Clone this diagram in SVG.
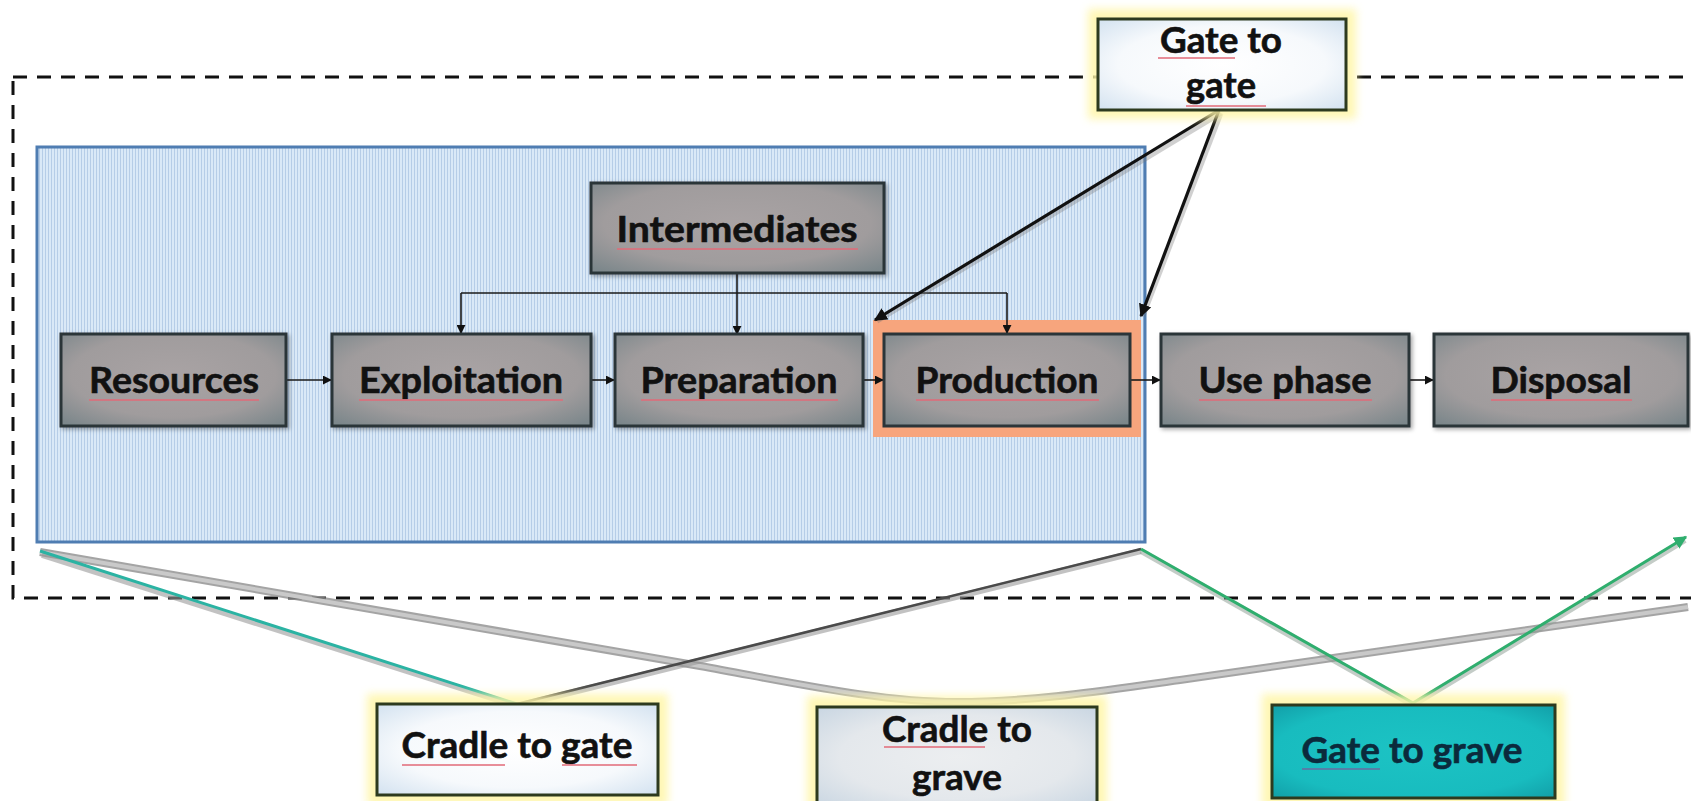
<svg xmlns="http://www.w3.org/2000/svg" width="1691" height="801" viewBox="0 0 1691 801">
<style>
.lbl{font-family:Lato,"Open Sans","Liberation Sans",sans-serif;font-weight:700;font-size:36px;fill:#111;stroke:#111;stroke-width:0.6;text-anchor:middle}
.node{fill:url(#ng);stroke:#2b3539;stroke-width:3}
.box{stroke:#2d3a1e;stroke-width:3}
.glow{fill:#fff6a8;opacity:.85}
.thin{fill:none;stroke:#1a1a1a;stroke-width:1.6}
.sq{stroke:#e26a78;stroke-width:2;opacity:.75}
</style>
<defs>
<pattern id="hatch" width="3" height="3" patternUnits="userSpaceOnUse">
<rect width="3" height="3" fill="#dae9f7"/>
<rect width="1" height="3" fill="#b6cde7"/>
</pattern>
<radialGradient id="ng" cx="50%" cy="45%" r="70%">
<stop offset="0" stop-color="#a9a3a4"/>
<stop offset="0.65" stop-color="#a09c9d"/>
<stop offset="1" stop-color="#7c878b"/>
</radialGradient>
<radialGradient id="wg" cx="50%" cy="50%" r="70%">
<stop offset="0" stop-color="#ffffff"/>
<stop offset="0.6" stop-color="#f6f9fc"/>
<stop offset="1" stop-color="#d3e2f0"/>
</radialGradient>
<radialGradient id="gg" cx="50%" cy="50%" r="70%">
<stop offset="0" stop-color="#eceef0"/>
<stop offset="0.6" stop-color="#e4e8ec"/>
<stop offset="1" stop-color="#c9d6e2"/>
</radialGradient>
<radialGradient id="tg" cx="50%" cy="50%" r="70%">
<stop offset="0" stop-color="#1cc3c4"/>
<stop offset="0.7" stop-color="#18bcbf"/>
<stop offset="1" stop-color="#129fa8"/>
</radialGradient>
<filter id="blur" x="-20%" y="-30%" width="140%" height="160%"><feGaussianBlur stdDeviation="4"/></filter>
<filter id="sh" x="-10%" y="-10%" width="130%" height="130%"><feDropShadow dx="2" dy="2" stdDeviation="2" flood-color="#000" flood-opacity="0.35"/></filter>
<marker id="ah" viewBox="0 0 10 10" refX="9" refY="5" markerWidth="9" markerHeight="9" markerUnits="userSpaceOnUse" orient="auto"><path d="M0,0 L10,5 L0,10 z" fill="#111"/></marker>
<marker id="ahb" viewBox="0 0 10 10" refX="9" refY="5" markerWidth="13" markerHeight="13" markerUnits="userSpaceOnUse" orient="auto"><path d="M0,0 L10,5 L0,10 z" fill="#111"/></marker>
<marker id="ahg" viewBox="0 0 10 10" refX="9" refY="5" markerWidth="13" markerHeight="13" markerUnits="userSpaceOnUse" orient="auto"><path d="M0,0 L10,5 L0,10 z" fill="#2fae6e"/></marker>
</defs>
<rect width="1691" height="801" fill="#ffffff"/>

<g id="boundary">
<rect x="13" y="77" width="1720" height="521" fill="none" stroke="#111" stroke-width="3" stroke-dasharray="14 10"/>
</g>

<g id="cradle-gate-scope">
<rect x="37" y="147" width="1108" height="395" fill="url(#hatch)" stroke="#4f7db2" stroke-width="3"/>
</g>

<g id="production-highlight">
<rect x="873" y="320" width="268" height="117" fill="#f7a57d"/>
</g>

<g id="connectors">
<path class="thin" d="M737,273 V293"/>
<path class="thin" d="M461,293 H1007"/>
<path class="thin" d="M461,293 V333" marker-end="url(#ah)"/>
<path class="thin" d="M737,293 V334" marker-end="url(#ah)"/>
<path class="thin" d="M1007,293 V333" marker-end="url(#ah)"/>
<path class="thin" d="M286,380 H331" marker-end="url(#ah)"/>
<path class="thin" d="M591,380 H614" marker-end="url(#ah)"/>
<path class="thin" d="M863,380 H883" marker-end="url(#ah)"/>
<path class="thin" d="M1130,380 H1160" marker-end="url(#ah)"/>
<path class="thin" d="M1409,380 H1433" marker-end="url(#ah)"/>
<path d="M1221,113 L877,321" fill="none" stroke="#777" stroke-width="5" opacity="0.35"/>
<path d="M1221,113 L1143,316" fill="none" stroke="#777" stroke-width="5" opacity="0.35"/>
<path d="M1219,110 L875,320" fill="none" stroke="#111" stroke-width="3.2" marker-end="url(#ahb)"/>
<path d="M1219,110 L1141,316" fill="none" stroke="#111" stroke-width="3.2" marker-end="url(#ahb)"/>
<!-- cradle to grave -->
<path d="M40,552 L700,666 C800,684 880,702 957,702 C1040,702 1120,688 1180,680 L1688,607" fill="none" stroke="#8d8d8d" stroke-width="8" opacity="0.8"/>
<path d="M40,552 L700,666 C800,684 880,702 957,702 C1040,702 1120,688 1180,680 L1688,607" fill="none" stroke="#c9c9c9" stroke-width="4"/>
<!-- cradle to gate -->
<path d="M42,555 L517,706" fill="none" stroke="#9a9a9a" stroke-width="6" opacity="0.6"/>
<path d="M40,551 L517,704" fill="none" stroke="#2bb3a3" stroke-width="3"/>
<path d="M517,706 L1141,551" fill="none" stroke="#9a9a9a" stroke-width="6" opacity="0.6"/>
<path d="M517,704 L1141,549" fill="none" stroke="#4a4a4a" stroke-width="2.5"/>
<!-- gate to grave -->
<path d="M1141,551 L1413,705 L1685,540" fill="none" stroke="#8a9a90" stroke-width="6" opacity="0.5"/>
<path d="M1141,549 L1413,703" fill="none" stroke="#2fae6e" stroke-width="3"/>
<path d="M1413,703 L1686,537" fill="none" stroke="#2fae6e" stroke-width="3" marker-end="url(#ahg)"/>
</g>

<g id="resources">
<rect class="node" x="61" y="334" width="225" height="92" filter="url(#sh)"/>
<text class="lbl" x="174" y="393" textLength="170" lengthAdjust="spacingAndGlyphs">Resources</text>
<line class="sq" x1="89" y1="400" x2="259" y2="400"/>
</g>
<g id="exploitation">
<rect class="node" x="332" y="334" width="259" height="92" filter="url(#sh)"/>
<text class="lbl" x="461" y="393" textLength="204" lengthAdjust="spacingAndGlyphs">Exploitation</text>
<line class="sq" x1="359" y1="400" x2="563" y2="400"/>
</g>
<g id="intermediates">
<rect class="node" x="591" y="183" width="293" height="90" filter="url(#sh)"/>
<text class="lbl" x="737" y="242" textLength="241" lengthAdjust="spacingAndGlyphs">Intermediates</text>
<line class="sq" x1="617" y1="249" x2="858" y2="249"/>
</g>
<g id="preparation">
<rect class="node" x="615" y="334" width="248" height="92" filter="url(#sh)"/>
<text class="lbl" x="739" y="393" textLength="197" lengthAdjust="spacingAndGlyphs">Preparation</text>
<line class="sq" x1="641" y1="400" x2="838" y2="400"/>
</g>
<g id="production">
<rect class="node" x="884" y="334" width="246" height="92"/>
<text class="lbl" x="1007" y="393" textLength="183" lengthAdjust="spacingAndGlyphs">Production</text>
<line class="sq" x1="916" y1="400" x2="1099" y2="400"/>
</g>
<g id="use-phase">
<rect class="node" x="1161" y="334" width="248" height="92" filter="url(#sh)"/>
<text class="lbl" x="1285" y="393" textLength="173" lengthAdjust="spacingAndGlyphs">Use phase</text>
<line class="sq" x1="1199" y1="400" x2="1372" y2="400"/>
</g>
<g id="disposal">
<rect class="node" x="1434" y="334" width="254" height="92" filter="url(#sh)"/>
<text class="lbl" x="1561" y="393" textLength="141" lengthAdjust="spacingAndGlyphs">Disposal</text>
<line class="sq" x1="1491" y1="400" x2="1632" y2="400"/>
</g>

<g id="gate-to-gate">
<rect class="glow" x="1088" y="9" width="268" height="110" filter="url(#blur)"/>
<rect class="box" x="1098" y="19" width="248" height="91" fill="url(#wg)"/>
<text class="lbl" x="1221" y="53" textLength="122" lengthAdjust="spacingAndGlyphs">Gate to</text>
<text class="lbl" x="1221" y="98" textLength="70" lengthAdjust="spacingAndGlyphs">gate</text>
<line class="sq" x1="1158" y1="58" x2="1235" y2="58"/>
<line class="sq" x1="1186" y1="106" x2="1266" y2="106"/>
</g>

<g id="cradle-to-gate">
<rect class="glow" x="367" y="694" width="301" height="112" filter="url(#blur)"/>
<rect class="box" x="377" y="704" width="281" height="91" fill="url(#wg)"/>
<text class="lbl" x="517" y="758" textLength="231" lengthAdjust="spacingAndGlyphs">Cradle to gate</text>
<line class="sq" x1="402" y1="765" x2="505" y2="765"/>
<line class="sq" x1="562" y1="765" x2="637" y2="765"/>
</g>

<g id="cradle-to-grave">
<rect class="glow" x="807" y="696" width="300" height="115" filter="url(#blur)"/>
<rect class="box" x="817" y="707" width="280" height="100" fill="url(#gg)"/>
<text class="lbl" x="957" y="742" textLength="150" lengthAdjust="spacingAndGlyphs">Cradle to</text>
<text class="lbl" x="957" y="790" textLength="90" lengthAdjust="spacingAndGlyphs">grave</text>
<line class="sq" x1="884" y1="747" x2="985" y2="747"/>
</g>

<g id="gate-to-grave">
<rect class="glow" x="1262" y="694" width="303" height="115" filter="url(#blur)"/>
<rect class="box" x="1272" y="705" width="283" height="93" fill="url(#tg)" stroke="#1c4238"/>
<text class="lbl" x="1412" y="763" textLength="221" lengthAdjust="spacingAndGlyphs" style="fill:#0b2a3c;stroke:#0b2a3c">Gate to grave</text>
<line class="sq" x1="1302" y1="769" x2="1380" y2="769" style="stroke:#6a6aa0"/>
</g>
</svg>
